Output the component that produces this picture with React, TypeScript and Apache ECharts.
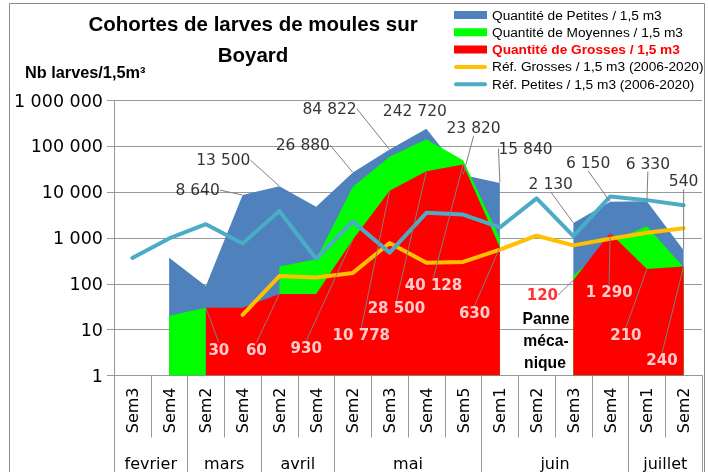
import React, { useEffect, useRef } from 'react';
import * as echarts from 'echarts';

const categories = ['Sem3', 'Sem4', 'Sem2', 'Sem4', 'Sem2', 'Sem4', 'Sem2', 'Sem3', 'Sem4', 'Sem5', 'Sem1', 'Sem2', 'Sem3', 'Sem4', 'Sem1', 'Sem2'];
const months = ['fevrier', 'mars', 'avril', 'mai', 'juin', 'juillet'];
const monthSpans = [2, 2, 2, 4, 4, 2];

const petites = [null, 370, 90, 8640, 13500, 4800, 26880, 84822, 242720, 23820, 15840, null, 2130, 6150, 6330, 540];
const moyennes = [null, 20, 30, null, 240, 345, 13200, 59000, 143000, 50000, 1000, null, 150, 820, 1800, 230];
const grosses = [null, null, 30, 30, 60, 60, 930, 10778, 28500, 40128, 630, null, 120, 1290, 210, 240];
const refGrosses = [null, null, null, 21, 148, 138, 173, 780, 290, 300, 560, 1120, 690, 960, 1300, 1630];
const refPetites = [367, 980, 2000, 760, 3900, 350, 2300, 480, 3540, 3240, 1700, 7300, 1100, 8000, 6700, 5200];

const seriesNames = [
  'Quantité de Petites / 1,5 m3',
  'Quantité de Moyennes / 1,5 m3',
  'Quantité de Grosses / 1,5 m3',
  'Réf. Grosses / 1,5 m3 (2006-2020)',
  'Réf. Petites / 1,5 m3 (2006-2020)',
];

// labelled points and label offsets (pixels from the point)
const petitesLabelIdx = [3, 4, 6, 7, 8, 9, 10, 12, 13, 14, 15];
const petitesLabelOff = [[-45, -5], [-56, -26], [-50, -27.5], [-60, -41], [-11.5, -18], [10.5, -47], [25.7, -34.5], [-22.6, -39], [-22, -39], [1, -37.7], [0, -69]];
const grossesLabelIdx = [2, 4, 6, 7, 8, 9, 10, 12, 13, 14, 15];
const grossesLabelOff = [[13, 42.6], [-23, 56], [-46.6, 108.7], [-28.3, 144.4], [-30, 137], [-29.6, 120.5], [-25.3, 66], [-31, 15], [-1, 59], [-21, 66], [-21.6, 94]];

const fmt = (v: number) => String(Math.round(v)).replace(/\B(?=(\d{3})+(?!\d))/g, ' ');

const GRID = '#999999';
const FONT = 'DejaVu Sans';

export default function App() {
  const ref = useRef<HTMLDivElement>(null);
  useEffect(() => {
    const chart = echarts.init(ref.current!, null, { renderer: 'svg' });

    const bounds: number[] = [0];
    monthSpans.forEach((s) => bounds.push(bounds[bounds.length - 1] + s));
    const centers = monthSpans.map((s, i) => bounds[i] + s / 2);

    const area = (name: string, data: (number | null)[], color: string, z: number) => ({
      type: 'line',
      name,
      data,
      color,
      symbol: 'none',
      z,
      lineStyle: { width: 0, color },
      areaStyle: { color, opacity: 1, origin: 'start' },
      silent: true,
    });
    const line = (name: string, data: (number | null)[], color: string, z: number) => ({
      type: 'line',
      name,
      data,
      color,
      symbol: 'none',
      z,
      lineStyle: { width: 4, color, cap: 'round', join: 'round' },
      silent: true,
    });

    const lineIcon = 'path://M2,0H31A2,2 0 0 1 31,4H2A2,2 0 0 1 2,0Z';

    const option: any = {
      animation: false,
      grid: { left: 114, top: 100.5, width: 588, height: 275, containLabel: false, outerBoundsMode: 'none' },
      legend: {
        orient: 'vertical',
        left: 449,
        top: 3,
        itemWidth: 33,
        itemHeight: 8,
        itemGap: 3.3,
        selectedMode: false,
        itemStyle: { borderWidth: 0 },
        textStyle: { fontFamily: 'Liberation Sans', fontSize: 13.7, color: '#000', lineHeight: 14 },
        data: [
          { name: seriesNames[0], icon: 'rect' },
          { name: seriesNames[1], icon: 'rect' },
          { name: seriesNames[2], icon: 'rect', textStyle: { color: '#FF0000', fontWeight: 'bold' } },
          { name: seriesNames[3], icon: lineIcon },
          { name: seriesNames[4], icon: lineIcon },
        ],
      },
      xAxis: [
        {
          type: 'category',
          data: categories,
          boundaryGap: true,
          axisLine: { show: true, lineStyle: { color: GRID } },
          axisTick: { show: true, interval: 0, length: 62, lineStyle: { color: GRID } },
          axisLabel: { interval: 0, rotate: 90, margin: 12, fontFamily: FONT, fontSize: 16, color: '#000' },
          splitLine: { show: false },
        },
        {
          type: 'value',
          min: 0,
          max: 16,
          position: 'bottom',
          axisLine: { show: false },
          splitLine: { show: false },
          axisTick: { show: true, customValues: bounds, length: 97, lineStyle: { color: GRID } },
          axisLabel: {
            customValues: centers,
            margin: 80,
            fontFamily: FONT,
            fontSize: 16,
            color: '#000',
            formatter: (v: number) => {
              const k = centers.indexOf(v);
              return k >= 0 ? months[k] : '';
            },
          },
        },
      ],
      yAxis: {
        type: 'log',
        logBase: 10,
        min: 1,
        max: 1000000,
        splitNumber: 6,
        axisLine: { show: true, lineStyle: { color: GRID } },
        axisTick: { show: true, length: 7, lineStyle: { color: GRID } },
        axisLabel: { formatter: (v: number) => fmt(v), fontFamily: FONT, fontSize: 17.5, color: '#000', margin: 11 },
        splitLine: { show: true, lineStyle: { color: GRID, width: 1 } },
      },
      series: [
        area(seriesNames[0], petites, '#4F81BD', 1),
        area(seriesNames[1], moyennes, '#00FF00', 2),
        area(seriesNames[2], grosses, '#FF0000', 3),
        line(seriesNames[3], refGrosses, '#FFC000', 4),
        line(seriesNames[4], refPetites, '#4BACC6', 5),
        {
          type: 'scatter',
          name: 'lblPetites',
          z: 10,
          silent: true,
          symbolSize: 1,
          itemStyle: { color: 'rgba(0,0,0,0)' },
          data: petitesLabelIdx.map((i) =>
            i === 8 ? { value: [i, petites[i]], labelLine: { show: false } } : { value: [i, petites[i]] }
          ),
          label: {
            show: true,
            position: 'inside',
            formatter: (p: any) => fmt(p.value[1]),
            color: '#000',
            fontFamily: FONT,
            fontSize: 15.5,
          },
          labelLine: { show: true, lineStyle: { color: '#7f7f7f', width: 1 } },
          labelLayout: (p: any) => ({ dx: petitesLabelOff[p.dataIndex][0], dy: petitesLabelOff[p.dataIndex][1] }),
        },
        {
          type: 'scatter',
          name: 'lblGrosses',
          z: 10,
          silent: true,
          symbolSize: 1,
          itemStyle: { color: 'rgba(0,0,0,0)' },
          data: grossesLabelIdx.map((i) =>
            i === 12 ? { value: [i, grosses[i]], label: { color: '#FF0000' } } : { value: [i, grosses[i]] }
          ),
          label: {
            show: true,
            position: 'inside',
            formatter: (p: any) => fmt(p.value[1]),
            color: '#FFFFFF',
            fontFamily: FONT,
            fontWeight: 'bold',
            fontSize: 15,
          },
          labelLine: { show: true, lineStyle: { color: '#7f7f7f', width: 1 } },
          labelLayout: (p: any) => ({ dx: grossesLabelOff[p.dataIndex][0], dy: grossesLabelOff[p.dataIndex][1] }),
        },
      ],
      graphic: [
        {
          type: 'rect',
          silent: true,
          z: -10,
          shape: { x: 9.5, y: 3.5, width: 695, height: 500 },
          style: { fill: 'none', stroke: '#8c8c8c', lineWidth: 1 },
        },
        {
          type: 'text',
          x: 253,
          y: 23,
          style: { text: 'Cohortes de larves de moules sur', font: 'bold 20.5px "Liberation Sans"', fill: '#000', align: 'center', verticalAlign: 'middle' },
        },
        {
          type: 'text',
          x: 253,
          y: 54,
          style: { text: 'Boyard', font: 'bold 20.5px "Liberation Sans"', fill: '#000', align: 'center', verticalAlign: 'middle' },
        },
        {
          type: 'text',
          x: 25,
          y: 71.5,
          style: { text: 'Nb larves/1,5m³', font: 'bold 16.3px "Liberation Sans"', fill: '#000', align: 'left', verticalAlign: 'middle' },
        },
        {
          type: 'text',
          x: 546,
          y: 318,
          z: 20,
          style: { text: 'Panne', font: 'bold 15.7px "Liberation Sans"', fill: '#000', align: 'center', verticalAlign: 'middle' },
        },
        {
          type: 'text',
          x: 546,
          y: 340.5,
          z: 20,
          style: { text: 'méca-', font: 'bold 15.7px "Liberation Sans"', fill: '#000', align: 'center', verticalAlign: 'middle' },
        },
        {
          type: 'text',
          x: 545,
          y: 362,
          z: 20,
          style: { text: 'nique', font: 'bold 15.7px "Liberation Sans"', fill: '#000', align: 'center', verticalAlign: 'middle' },
        },
      ],
    };

    chart.setOption(option);
    return () => chart.dispose();
  }, []);

  return <div ref={ref} style={{ position: 'fixed', left: 0, top: 0, width: 708, height: 472 }} />;
}
